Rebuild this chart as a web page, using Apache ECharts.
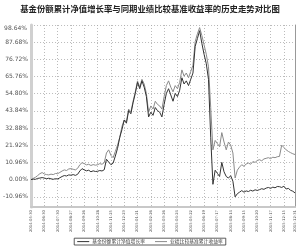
<!DOCTYPE html>
<html><head><meta charset="utf-8">
<script src="https://cdn.jsdelivr.net/npm/echarts@6/dist/echarts.min.js"></script>
<style>html,body{margin:0;padding:0;background:#fff}#c{width:300px;height:249px}</style>
</head><body><div id="c"></div>
<script>
const titleText = '基金份额累计净值增长率与同期业绩比较基准收益率的历史走势对比图';
const seriesNames = ['基金份额累计净值增长率', '业绩比较基准累计收益率'];
const tickLabels = ['2014-05-30','2014-06-30','2014-07-30','2014-08-27','2014-09-26','2014-10-28','2014-11-25','2014-12-23','2015-01-21','2015-02-26','2015-03-26','2015-04-24','2015-05-22','2015-06-19','2015-07-17','2015-08-14','2015-09-15','2015-10-20','2015-11-17','2015-12-15','2015-12-31'];
const yMin = -10.96, yMax = 98.64, yStep = 10.96;
const fundValues = [0,0.3,0.2,0.8,1.0,1.3,1.0,0.6,0.9,0.5,0.2,0.6,0.4,1.2,2.0,2.6,2.3,3.0,2.8,3.2,2.7,3.4,5.5,7.0,6.2,5.6,6.0,5.0,5.6,5.2,5.3,5.8,5.5,6.3,13.0,11.2,9.5,10.5,15.0,20.0,27.0,32.0,38.0,36.0,44.0,42.0,49.0,55.0,62.0,58.0,63.0,59.0,53.0,40.0,43.0,41.0,46.0,44.0,43.0,40.0,48.0,55.0,58.0,54.0,50.0,55.0,53.0,57.0,65.0,61.0,63.0,60.0,64.0,68.0,85.0,90.0,95.0,87.0,80.0,74.0,64.0,27.0,-3.0,6.0,4.0,2.0,11.0,5.0,2.0,1.0,2.5,-1.0,-11.0,-9.0,-8.0,-7.0,-8.0,-7.2,-7.6,-6.8,-7.3,-6.5,-6.9,-6.4,-5.8,-6.2,-5.4,-5.0,-5.6,-4.8,-5.2,-4.4,-4.5,-5.0,-4.2,-6.0,-5.6,-6.8,-7.4,-8.5];
const benchValues = [0,0.8,1.5,2.6,3.8,4.5,3.6,3.2,3.0,3.5,3.2,3.9,3.8,4.6,5.5,6.2,5.8,6.8,7.0,6.6,6.2,7.2,9.5,10.8,10.2,9.4,9.8,9.0,9.6,9.2,9.5,10.2,9.8,10.8,17.0,19.0,15.5,14.0,18.0,22.0,27.0,34.0,38.0,37.0,45.0,43.0,50.0,56.0,63.0,59.0,64.0,61.0,55.0,43.0,47.0,45.0,50.0,48.0,47.0,45.0,53.0,60.0,63.0,59.0,56.0,60.0,58.0,62.0,70.0,66.0,68.0,65.0,69.0,73.0,88.0,93.0,97.0,92.0,86.0,80.0,72.0,46.0,19.0,25.0,23.0,21.0,30.0,24.0,19.0,24.0,22.0,17.0,1.0,6.0,8.0,9.5,8.5,10.0,10.6,9.8,11.5,11.0,12.2,12.7,12.0,13.2,13.6,14.0,13.4,14.3,14.0,14.6,14.8,22.0,20.5,19.0,18.0,17.2,16.5,16.0];

const categories = [];
for (let i = 0; i < fundValues.length; i++) {
  const k = Math.floor(i / 6);
  if (i === fundValues.length - 1) categories.push(tickLabels[tickLabels.length - 1]);
  else if (i % 6 === 0) categories.push(tickLabels[k]);
  else categories.push(tickLabels[Math.min(k, tickLabels.length - 2)] + '_' + (i % 6));
}
const isTick = (i, v) => tickLabels.indexOf(v) >= 0;
const gridLine = {color: '#aaa', type: [1, 2], width: 0.8};
const fmt = v => v.toFixed(2) + '%';

const chart = echarts.init(document.getElementById('c'), null, {renderer: 'canvas'});
chart.setOption({
  animation: false,
  title: {text: titleText, left: 'center', top: 5, padding: 0,
    textStyle: {fontSize: 8.4, fontWeight: 'bold', color: '#222', fontFamily: 'Noto Sans CJK SC'}},
  grid: [
    {left: 31, right: 5, top: 25, bottom: 52.2, containLabel: false},
    {left: 31, right: 5, top: 25, bottom: 42, containLabel: false}
  ],
  legend: {data: seriesNames, bottom: 4, left: 'center', icon: 'rect', itemWidth: 12, itemHeight: 1,
    itemGap: 10, padding: [1, 3], borderColor: '#333', borderWidth: 0.8,
    textStyle: {fontSize: 4.8, color: '#444', fontFamily: 'Noto Sans CJK SC', padding: [0, 0, 0, -2]}},
  xAxis: [
    {gridIndex: 0, type: 'category', data: categories, boundaryGap: false, show: false},
    {gridIndex: 1, type: 'category', data: categories, boundaryGap: false,
      axisLine: {lineStyle: {color: '#c8c8c8', width: 2}},
      axisTick: {show: false},
      axisLabel: {interval: isTick, rotate: 90, fontSize: 3.8, color: '#555', margin: 3,
        fontFamily: 'DejaVu Sans'},
      splitLine: {show: true, interval: isTick, lineStyle: gridLine}}
  ],
  yAxis: [
    {gridIndex: 0, type: 'value', min: yMin, max: yMax, interval: yStep,
      axisLine: {show: false}, axisTick: {show: false},
      axisLabel: {fontSize: 6, color: '#555', margin: 3, fontFamily: 'DejaVu Sans',
        showMaxLabel: false, formatter: fmt},
      splitLine: {show: true, lineStyle: gridLine}},
    {gridIndex: 1, type: 'value', min: 0, max: 1, position: 'left',
      name: fmt(yMax), nameLocation: 'end', nameGap: -3,
      nameTextStyle: {fontSize: 6, color: '#555', fontFamily: 'DejaVu Sans', align: 'right',
        verticalAlign: 'middle', padding: [0, 4, 0, 0]},
      axisLine: {show: true, lineStyle: {color: '#d0d0d0', width: 3}},
      axisTick: {show: false}, axisLabel: {show: false}, splitLine: {show: false}},
    {gridIndex: 1, type: 'value', min: 0, max: 1, position: 'right',
      axisLine: {show: true, lineStyle: {color: '#999', width: 1}},
      axisTick: {show: false}, axisLabel: {show: false}, splitLine: {show: false}}
  ],
  series: [
    {name: seriesNames[0], type: 'line', xAxisIndex: 0, yAxisIndex: 0, data: fundValues, symbol: 'none', clip: false,
      lineStyle: {color: '#333', width: 1}, itemStyle: {color: '#333'}, z: 3},
    {name: seriesNames[1], type: 'line', xAxisIndex: 0, yAxisIndex: 0, data: benchValues, symbol: 'none', clip: false,
      lineStyle: {color: '#8a8a8a', width: 1}, itemStyle: {color: '#8a8a8a'}, z: 2}
  ]
});
</script></body></html>
